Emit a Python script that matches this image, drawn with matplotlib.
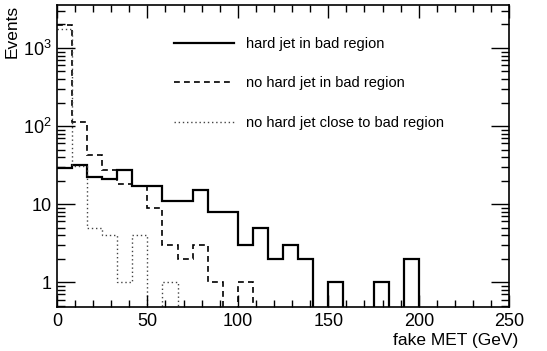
import numpy as np
import matplotlib
matplotlib.use("Agg")
from matplotlib import pyplot as plt
from matplotlib.ticker import FixedLocator, NullFormatter, MultipleLocator

plt.rcParams['font.family'] = ['Liberation Sans', 'DejaVu Sans']

# 30 bins from 0 to 250 GeV
edges = np.linspace(0, 250, 31)
hard_bad = [29, 32, 22, 21, 27, 17, 17, 11, 11, 15, 8, 8, 3, 5, 2, 3, 2, 0,
            1, 0, 0, 1, 0, 2, 0, 0, 0, 0, 0, 0]
nohard_bad = [1950, 114, 43, 27, 18, 17, 9, 3, 2, 3, 1, 0, 1, 0, 0, 0, 0, 0,
              0, 0, 0, 0, 0, 0, 0, 0, 0, 0, 0, 0]
nohard_close = [1750, 31, 5, 4, 1, 4, 0, 1, 0, 0, 0, 0, 0, 0, 0, 0, 0, 0,
                0, 0, 0, 0, 0, 0, 0, 0, 0, 0, 0, 0]
labels = ['hard jet in bad region', 'no hard jet in bad region',
          'no hard jet close to bad region']

fig = plt.figure(figsize=(5.47, 3.51), dpi=100)
ax = fig.add_axes([0.104, 0.125, 0.827, 0.861])


def floor(v):
    # empty bins sit on the bottom of the frame, like ROOT does
    v = np.asarray(v, dtype=float)
    return np.where(v > 0, v, 1e-3)


ax.stairs(floor(hard_bad), edges, baseline=None, color='black', lw=1.6,
          label=labels[0])
ax.stairs(floor(nohard_bad), edges, baseline=None, color='black', lw=1.2,
          linestyle=(0, (3.5, 2.5)), label=labels[1])
ax.stairs(floor(nohard_close), edges, baseline=None, color='#444444', lw=1.0,
          linestyle=(0, (1, 2)), label=labels[2])

ax.set_yscale('log')
ax.set_xlim(0, 250)
ax.set_ylim(0.48, 3560)

ax.xaxis.set_major_locator(MultipleLocator(50))
ax.xaxis.set_minor_locator(MultipleLocator(10))
ax.yaxis.set_major_locator(FixedLocator([1, 10, 100, 1000]))
minors = [m * 10 ** d for d in range(-1, 4) for m in range(2, 10)]
ax.yaxis.set_minor_locator(FixedLocator(minors))
ax.yaxis.set_minor_formatter(NullFormatter())
ax.set_yticklabels(['1', '10', '$\\mathregular{10^2}$', '$\\mathregular{10^3}$'])

ax.tick_params(which='both', direction='in', top=True, right=True,
               labelsize=13, width=1)
ax.tick_params(axis='x', which='major', length=9, pad=4)
ax.tick_params(axis='x', which='minor', length=5)
ax.tick_params(axis='y', which='major', length=13, pad=4)
ax.tick_params(axis='y', which='minor', length=6)
for s in ax.spines.values():
    s.set_linewidth(1.2)

ax.set_xlabel('fake MET (GeV)', fontsize=12.5, ha='right')
ax.xaxis.set_label_coords(1.02, -0.085)
ax.set_ylabel('Events', fontsize=12.5, loc='top', labelpad=2)

fig.legend(loc='upper left', bbox_to_anchor=(0.318, 0.895), frameon=False,
           fontsize=10.5, handlelength=4.1, handletextpad=0.85,
           labelspacing=1.75, borderpad=0, borderaxespad=0)

fig.savefig('out.png', dpi=100)
